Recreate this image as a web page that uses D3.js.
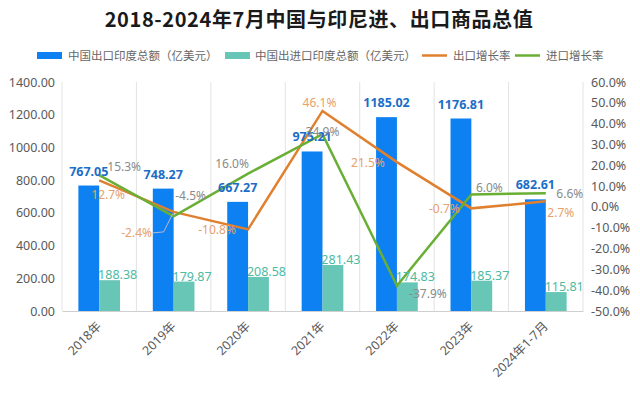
<!DOCTYPE html>
<html><head><meta charset="utf-8">
<script src="https://cdn.jsdelivr.net/npm/d3@7"></script>
<style>
body{margin:0;background:#fff;}
text{font-family:"Noto Sans","Noto Sans CJK SC",sans-serif;}
</style></head>
<body><svg id="c" width="640" height="393"></svg>
<script>
const categories = ["2018年","2019年","2020年","2021年","2022年","2023年","2024年1-7月"];
const exportValues = [767.05, 748.27, 667.27, 975.21, 1185.02, 1176.81, 682.61];
const importValues = [188.38, 179.87, 208.58, 281.43, 174.83, 185.37, 115.81];
const exportGrowth = [12.7, -2.4, -10.8, 46.1, 21.5, -0.7, 2.7];
const importGrowth = [15.3, -4.5, 16.0, 34.9, -37.9, 6.0, 6.6];
const leftTicks = [0,200,400,600,800,1000,1200,1400];
const rightTicks = [-50,-40,-30,-20,-10,0,10,20,30,40,50,60];
const seriesNames = ["中国出口印度总额（亿美元）","中国出进口印度总额（亿美元）","出口增长率","进口增长率"];
// label placement nudges (px) for percentage labels
const exportLabelNudge = [[9,15],[-37,21],[-31,1],[-3,-8],[-29,1],[-27,1],[15,12]];
const importLabelNudge = [[25,-8],[17,-20],[-16,-10],[0,-2],[31,8],[18,-6],[24,1]];

const C = {blue:"#0d80f2", teal:"#67c6b5", orange:"#e0802f", green:"#6aaf35",
  blueLbl:"#1a6ec8", tealLbl:"#4dbaa2", orangeLbl:"#e8a06c", grayLbl:"#8a8a8a", axis:"#595959"};

const svg = d3.select("#c");
const L=62, R=583, T=82, B=311;
const x = d3.scaleBand().domain(categories).range([L,R]).padding(0);
const bw = x.bandwidth();
const sub = d3.scaleBand().domain(["e","i"]).range([bw*0.22, bw*0.78]).padding(0);
const yL = d3.scaleLinear().domain([0,1400]).range([B,T]);
const yR = d3.scaleLinear().domain([-50,60]).range([B,T]);
const cx = c => x(c)+bw/2;

// title
svg.append("text").attr("x",319).attr("y",27).attr("text-anchor","middle")
  .style("font-family","'Noto Sans CJK SC',sans-serif").style("font-weight","700")
  .style("font-size","20px").style("letter-spacing","0.6px").attr("fill","#1a1a1a")
  .text("2018-2024年7月中国与印尼进、出口商品总值");

// legend
const lg = svg.append("g").style("font-size","11.5px");
const legendItems = [
  {type:"rect", color:C.blue, x:37, tx:68, name:seriesNames[0]},
  {type:"rect", color:C.teal, x:225, tx:255, name:seriesNames[1]},
  {type:"line", color:C.orange, x:422, tx:453, name:seriesNames[2]},
  {type:"line", color:C.green, x:515, tx:546, name:seriesNames[3]}];
legendItems.forEach(d=>{
  if(d.type==="rect") lg.append("rect").attr("x",d.x).attr("y",52).attr("width",25).attr("height",7).attr("fill",d.color);
  else lg.append("line").attr("x1",d.x).attr("x2",d.x+25).attr("y1",55.5).attr("y2",55.5).attr("stroke",d.color).attr("stroke-width",2.5);
  lg.append("text").attr("x",d.tx).attr("y",60).attr("fill","#666").style("font-family","'Noto Sans CJK SC',sans-serif").text(d.name);
});

// vertical gridlines
const bounds = categories.map(c=>x(c)).concat([R]);
svg.append("g").selectAll("line").data(bounds).join("line")
  .attr("x1",d=>d).attr("x2",d=>d).attr("y1",T).attr("y2",B).attr("stroke","#e3e3e3").attr("stroke-width",1);

// axes
const la = svg.append("g").attr("transform",`translate(${L},0)`)
  .call(d3.axisLeft(yL).tickValues(leftTicks).tickFormat(d=>d.toFixed(2)).tickSize(0).tickPadding(7));
la.select(".domain").remove();
la.selectAll("text").style("font-size","12.5px").attr("fill",C.axis).style("font-family","'Noto Sans',sans-serif");
const ra = svg.append("g").attr("transform",`translate(${R},0)`)
  .call(d3.axisRight(yR).tickValues(rightTicks).tickFormat(d=>d.toFixed(1)+"%").tickSize(0).tickPadding(8));
ra.select(".domain").remove();
ra.selectAll("text").style("font-size","12.5px").attr("fill",C.axis).style("font-family","'Noto Sans',sans-serif");

// bars
svg.append("g").selectAll("rect").data(categories).join("rect")
  .attr("x",(c)=>x(c)+sub("e")).attr("width",sub.bandwidth())
  .attr("y",(c,i)=>yL(exportValues[i])).attr("height",(c,i)=>B-yL(exportValues[i])).attr("fill",C.blue);
svg.append("g").selectAll("rect").data(categories).join("rect")
  .attr("x",(c)=>x(c)+sub("i")).attr("width",sub.bandwidth())
  .attr("y",(c,i)=>yL(importValues[i])).attr("height",(c,i)=>B-yL(importValues[i])).attr("fill",C.teal);

// bottom axis
const ba = svg.append("g").attr("transform",`translate(0,${B})`)
  .call(d3.axisBottom(x).tickSize(0).tickSizeOuter(0).tickFormat(""));
ba.select(".domain").attr("stroke","#cfcfcf");
svg.append("g").selectAll("text").data(categories).join("text")
  .attr("transform",c=>`translate(${cx(c)+3},${B+16}) rotate(-45)`)
  .attr("text-anchor","end").attr("fill",C.axis).style("font-size","12.5px")
  .text(c=>c);

// lines
const lineE = d3.line().x((d,i)=>cx(categories[i])).y(d=>yR(d));
svg.append("path").datum(exportGrowth).attr("d",lineE).attr("fill","none").attr("stroke",C.orange).attr("stroke-width",2.5);
svg.append("path").datum(importGrowth).attr("d",lineE).attr("fill","none").attr("stroke",C.green).attr("stroke-width",2.5);

// bar labels
svg.append("g").selectAll("text").data(categories).join("text")
  .attr("x",c=>x(c)+sub("e")+sub.bandwidth()/2).attr("y",(c,i)=>yL(exportValues[i])-10)
  .attr("text-anchor","middle").attr("fill",C.blueLbl).style("font-size","12.5px").style("font-weight","700")
  .text((c,i)=>exportValues[i].toFixed(2));
svg.append("g").selectAll("text").data(categories).join("text")
  .attr("x",c=>x(c)+sub("i")+sub.bandwidth()/2+8).attr("y",(c,i)=>yL(importValues[i])-1)
  .attr("text-anchor","middle").attr("fill",C.tealLbl).style("font-size","12.5px")
  .text((c,i)=>importValues[i].toFixed(2));

// percentage labels
const pctE = svg.append("g");
exportGrowth.forEach((v,i)=>{
  const px=cx(categories[i]), py=yR(v), n=exportLabelNudge[i];
  if(i===1){
    pctE.append("polyline").attr("points",`${px+n[0]+16},${py+n[1]} ${px-10},${py+n[1]-1} ${px-1},${py+2}`)
      .attr("fill","none").attr("stroke","#b9b9d6").attr("stroke-width",1);
  }
  pctE.append("text").attr("x",px+n[0]).attr("y",py+n[1]+4).attr("text-anchor","middle")
    .attr("fill",C.orangeLbl).style("font-size","12px").text(v.toFixed(1)+"%");
});
const pctI = svg.append("g");
importGrowth.forEach((v,i)=>{
  const px=cx(categories[i]), py=yR(v), n=importLabelNudge[i];
  pctI.append("text").attr("x",px+n[0]).attr("y",py+n[1]+4).attr("text-anchor","middle")
    .attr("fill",C.grayLbl).style("font-size","12px").text(v.toFixed(1)+"%");
});
</script></body></html>
